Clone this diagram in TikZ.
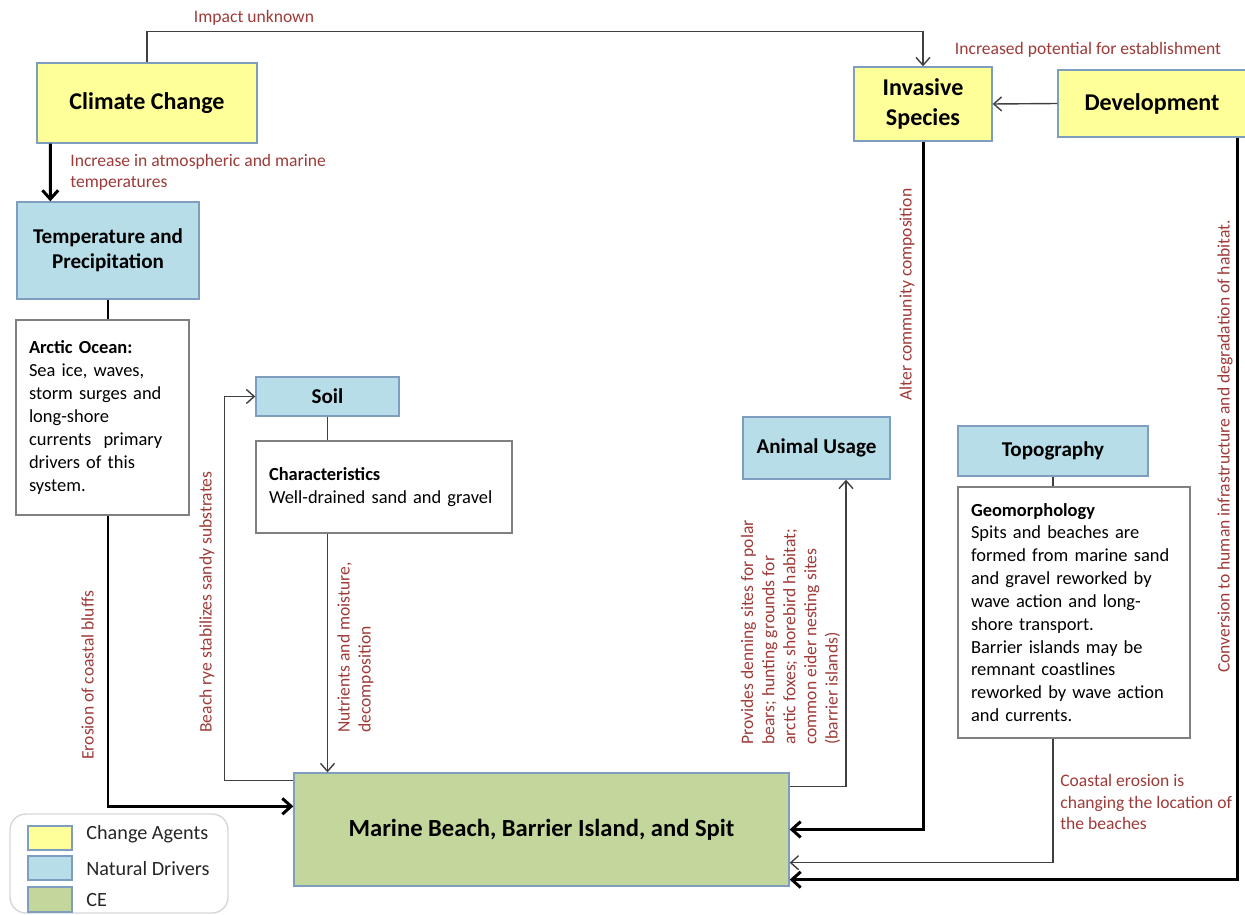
\documentclass[tikz,border=0pt]{standalone}
\usepackage{fontspec}
\setmainfont{Carlito}
\usetikzlibrary{arrows.meta,calc}
\definecolor{cayellow}{RGB}{255,255,153}
\definecolor{ndblue}{RGB}{183,221,232}
\definecolor{cegreen}{RGB}{195,214,155}
\definecolor{boxborder}{RGB}{127,157,191}
\definecolor{labelred}{RGB}{158,59,56}
\definecolor{thingray}{RGB}{64,64,64}
\definecolor{whiteborder}{RGB}{128,128,128}
\definecolor{legendgray}{RGB}{215,215,215}
\begin{document}
\begin{tikzpicture}[x=0.02cm,y=-0.02cm,
  basebox/.style={inner sep=0pt, draw=boxborder, line width=0.8pt, anchor=center},
  cabox/.style={basebox, fill=cayellow, font=\fontsize{13.7}{16.6}\selectfont\bfseries, align=center},
  ndbox/.style={basebox, fill=ndblue, font=\fontsize{12}{14.4}\selectfont\bfseries, align=center},
  cebox/.style={basebox, fill=cegreen, font=\fontsize{14}{16.8}\selectfont\bfseries},
  infobox/.style={inner sep=0pt, draw=whiteborder, fill=white, line width=0.8pt, align=left, anchor=center, font=\fontsize{10.5}{13}\selectfont},
  lbl/.style={text=labelred, font=\fontsize{10}{12}\selectfont, inner sep=0pt, align=left},
  rlbl/.style={lbl, rotate=90, anchor=west},
  legtext/.style={anchor=west, inner sep=0pt, font=\fontsize{11.5}{13.5}\selectfont, text=black!85},
  thickarrow/.style={line width=1.7pt, -{Straight Barb[length=5pt,width=9pt]}},
  thinarrow/.style={line width=0.8pt, draw=thingray, -{Straight Barb[length=4.5pt,width=8pt]}},
  thickline/.style={line width=1.7pt},
  thinline/.style={line width=0.8pt, draw=thingray}]
\useasboundingbox (0,0) rectangle (1245,915);

% boxes
\node[cabox, minimum width=4.4cm, minimum height=1.6cm] (cc) at (147,103) {Climate Change};
\node[cabox, minimum width=2.76cm, minimum height=1.48cm] (inv) at (923,104) {Invasive\\Species};
\node[cabox, minimum width=3.76cm, minimum height=1.34cm] (dev) at (1152,103.5) {Development};
\node[ndbox, minimum width=3.64cm, minimum height=1.94cm] (tp) at (108,250.5) {Temperature and\\Precipitation};
\node[ndbox, minimum width=2.86cm, minimum height=0.78cm] (soil) at (327.5,396.5) {Soil};
\node[ndbox, minimum width=2.94cm, minimum height=1.24cm] (au) at (816.5,448) {Animal Usage};
\node[ndbox, minimum width=3.8cm, minimum height=1.0cm] (topo) at (1053,451) {Topography};
\node[cebox, minimum width=9.9cm, minimum height=2.26cm] (gr) at (541.5,829.5) {Marine Beach, Barrier Island, and Spit};

\node[infobox, text width=2.94cm, minimum width=3.46cm, minimum height=3.9cm] (ao) at (102.5,417.5)
  {\textbf{Arctic Ocean:}\\Sea ice, waves,\\storm surges and\\long-shore\\currents~ primary\\drivers of this\\system.};
\node[infobox, text width=4.6cm, minimum width=5.12cm, minimum height=1.84cm] (ch) at (384,487)
  {\textbf{Characteristics}\\\mbox{Well-drained sand and gravel}};
\node[infobox, text width=4.12cm, minimum width=4.64cm, minimum height=5.02cm] (geo) at (1074,612.5)
  {\textbf{Geomorphology}\\Spits and beaches are\\formed from marine sand\\and gravel reworked by\\wave action and long-\\shore transport.\\Barrier islands may be\\remnant coastlines\\reworked by wave action\\and currents.};

% connectors
\draw[thinarrow] (cc.north) -- ++(0,-31) -| (inv.north);
\draw[thickarrow] ($(cc.south west)+(14,0)$) -- ($(tp.north west)+(34,0)$);
\draw[thickline] (tp.south) -- (tp.south |- ao.north);
\draw[thickarrow] (tp.south |- ao.south) |- ($(gr.north west)+(0,34)$);
\draw[thinarrow] ($(gr.north west)+(0,8)$) -| ($(soil.west)+(-31,0)$) -- (soil.west);
\draw[thinline] (soil.south) -- (soil.south |- ch.north);
\draw[thinarrow] (soil.south |- ch.south) -- (soil.south |- gr.north);
\draw[thinarrow] ($(gr.north east)+(0,14)$) -| ($(au.south)+(29.5,0)$);
\draw[thinarrow] (dev.west) -- (inv.east);
\draw[thickarrow] (inv.south) |- (gr.east);
\draw[thickarrow] ($(dev.south east)+(-9,0)$) |- ($(gr.south east)+(0,-7)$);
\draw[thinline] (topo.south) -- (topo.south |- geo.north);
\draw[thinarrow] (topo.south |- geo.south) |- ($(gr.south east)+(0,-24)$);

% labels
\node[lbl, anchor=center] (l1) at (254,18) {Impact unknown};
\node[lbl, anchor=center] (l2) at (1088,50) {Increased potential for establishment};
\node[lbl, anchor=west] (l3) at (70,172) {Increase in atmospheric and marine\\temperatures};
\node[lbl, anchor=west] (l4) at (1060,802) {Coastal erosion is\\changing the location of\\the beaches};
\node[rlbl] (l5) at (87.5,760) {Erosion of coastal bluffs};
\node[rlbl] (l6) at (207,733) {Beach rye stabilizes sandy substrates};
\node[rlbl] (l7) at (355.5,733) {Nutrients and moisture,\\decomposition};
\node[rlbl] (l8) at (790.5,745) {Provides denning sites for polar\\bears; hunting grounds for\\arctic foxes; shorebird habitat;\\common eider nesting sites\\(barrier islands)};
\node[rlbl] (l9) at (907,401) {Alter community composition};
\node[rlbl] (l10) at (1225,673) {Conversion to human infrastructure and degradation of habitat.};

% legend
\node[draw=legendgray, line width=0.8pt, rounded corners=9pt, inner sep=0pt, minimum width=4.36cm, minimum height=1.98cm] (leg) at (119,863.5) {};
\node[basebox, fill=cayellow, minimum width=0.88cm, minimum height=0.48cm] (sw1) at (50,838) {};
\node[basebox, fill=ndblue, minimum width=0.88cm, minimum height=0.48cm] (sw2) at (50,868) {};
\node[basebox, fill=cegreen, minimum width=0.88cm, minimum height=0.5cm] (sw3) at (50,899.5) {};
\node[legtext] (t1) at (86,834) {Change Agents};
\node[legtext] (t2) at (86,869) {Natural Drivers};
\node[legtext] (t3) at (86,900) {CE};
\end{tikzpicture}
\end{document}
